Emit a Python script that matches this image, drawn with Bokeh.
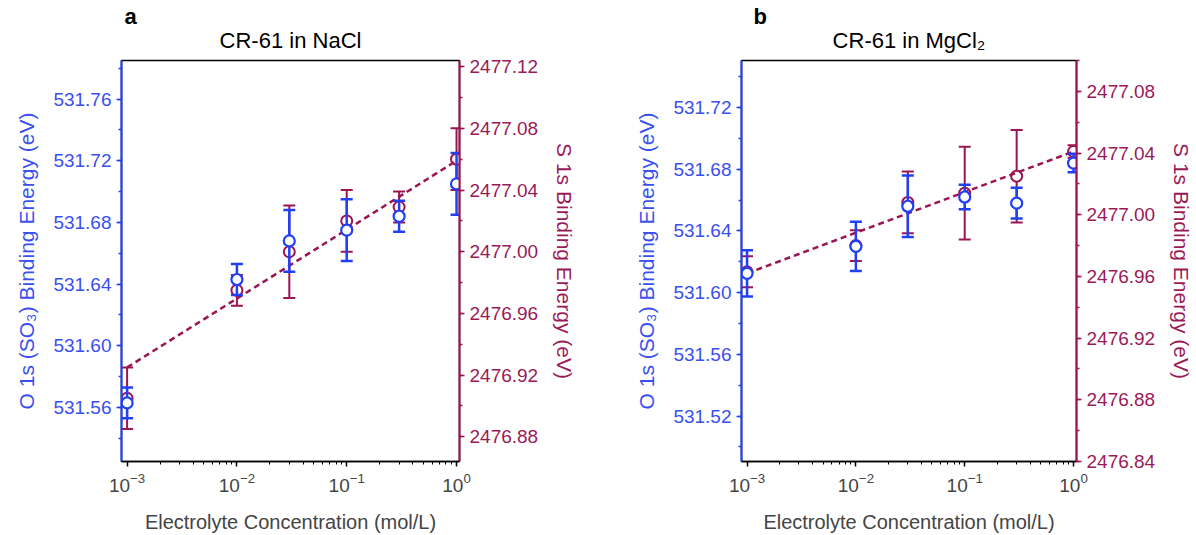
import numpy as np
from bokeh.plotting import figure
from bokeh.models import (Range1d, LinearAxis, FixedTicker, SingleIntervalTicker,
                          PrintfTickFormatter, Title, ColumnDataSource)
from bokeh.layouts import row
from bokeh.embed import file_html
from bokeh.resources import INLINE

# ---------------- data ----------------
conc = [0.001, 0.01, 0.03, 0.1, 0.3, 1.0]
fit_x = [0.001, 1.0]

o1s_nacl = [531.563, 531.643, 531.668, 531.675, 531.684, 531.705]
o1s_nacl_err = [0.010, 0.010, 0.020, 0.020, 0.010, 0.020]
s1s_nacl = [2476.905, 2476.975, 2477.000, 2477.020, 2477.029, 2477.060]
s1s_nacl_err = [0.020, 0.010, 0.030, 0.020, 0.010, 0.020]
fit_nacl = [2476.925, 2477.059]

o1s_mgcl2 = [531.6125, 531.630, 531.656, 531.662, 531.658, 531.684]
o1s_mgcl2_err = [0.015, 0.016, 0.020, 0.008, 0.010, 0.006]
s1s_mgcl2 = [2476.963, 2476.980, 2477.008, 2477.014, 2477.025, 2477.041]
s1s_mgcl2_err = [0.010, 0.010, 0.020, 0.030, 0.030, 0.004]
fit_mgcl2 = [2476.962, 2477.041]

x_major = [0.001, 0.01, 0.1, 1.0]
x_minor = [k * 10.0 ** e for e in (-3, -2, -1) for k in range(2, 10)]

BLUE = "#2040f8"
BLUE_TXT = "#3a4ff0"
RED = "#9b1552"
RED_TXT = "#9a1a58"
FONT = "Liberation Sans"


def make_panel(title, letter, letter_x, o1s, o1s_err, s1s, s1s_err, fit_y,
               o_range, s_range, b_left, b_right):
    p = figure(width=598, height=535, x_axis_type="log",
               x_range=Range1d(10 ** -3.051, 10 ** 0.027),
               y_range=Range1d(*o_range),
               output_backend="svg", toolbar_location=None,
               min_border_left=b_left, min_border_right=b_right,
               min_border_top=60, min_border_bottom=73, title=None)
    p.extra_y_ranges = {"s": Range1d(*s_range)}
    p.xgrid.visible = False
    p.ygrid.visible = False
    p.outline_line_color = "black"
    p.outline_line_width = 1.5
    p.background_fill_color = "white"
    p.border_fill_color = "white"

    p.add_layout(Title(text=title, align="center", text_font=FONT,
                       text_font_size="22px", text_font_style="normal",
                       text_color="black", standoff=16), "above")
    p.add_layout(Title(text=letter, align="left", offset=letter_x,
                       text_font=FONT, text_font_size="22px",
                       text_font_style="bold", text_color="black",
                       standoff=-23), "above")

    # x axis
    xa = p.xaxis[0]
    xa.ticker = FixedTicker(ticks=x_major, minor_ticks=x_minor)
    xa.axis_label = "Electrolyte Concentration (mol/L)"
    xa.axis_label_text_font = FONT
    xa.axis_label_text_font_style = "normal"
    xa.axis_label_text_font_size = "20px"
    xa.axis_label_standoff = 16
    xa.major_label_text_font = FONT
    xa.major_label_text_font_size = "19px"
    xa.major_label_standoff = 6
    xa.axis_line_color = "black"
    xa.axis_line_width = 1.5
    xa.major_tick_line_width = 1.5
    xa.minor_tick_line_width = 1
    xa.major_tick_out = 5
    xa.major_tick_in = 0
    xa.minor_tick_out = 3
    xa.minor_tick_in = 0

    # left y axis
    ya = p.yaxis[0]
    ya.ticker = SingleIntervalTicker(interval=0.04, num_minor_ticks=2)
    ya.formatter = PrintfTickFormatter(format="%.2f")
    ya.axis_label = "O 1s (SO\u2083) Binding Energy (eV)"
    ya.axis_label_text_color = BLUE_TXT
    ya.major_label_text_color = BLUE_TXT

    # right y axis
    ra = LinearAxis(y_range_name="s",
                    ticker=SingleIntervalTicker(interval=0.04, num_minor_ticks=2),
                    formatter=PrintfTickFormatter(format="%.2f"),
                    axis_label="S 1s Binding Energy (eV)")
    ra.axis_label_text_color = RED_TXT
    ra.major_label_text_color = RED_TXT
    for ax, col in ((ya, BLUE), (ra, RED)):
        ax.axis_line_color = col
        ax.axis_line_width = 2
        ax.major_tick_line_color = col
        ax.minor_tick_line_color = col
        ax.major_tick_line_width = 1.5
        ax.minor_tick_line_width = 1.5
        ax.major_tick_out = 5
        ax.major_tick_in = 0
        ax.minor_tick_out = 3
        ax.minor_tick_in = 0
        ax.axis_label_text_font = FONT
        ax.axis_label_text_font_style = "normal"
        ax.axis_label_text_font_size = "21px"
        ax.axis_label_standoff = 12
        ax.major_label_text_font = FONT
        ax.major_label_text_font_size = "19px"
        ax.major_label_standoff = 5
    p.add_layout(ra, "right")

    o = np.array(o1s)
    oe = np.array(o1s_err)
    s = np.array(s1s)
    se = np.array(s1s_err)
    src = ColumnDataSource(dict(x=conc, o=o, o_lo=o - oe, o_hi=o + oe,
                                s=s, s_lo=s - se, s_hi=s + se))

    # S 1s (right axis)
    p.segment(x0="x", y0="s_lo", x1="x", y1="s_hi", source=src, y_range_name="s",
              line_color=RED, line_width=2)
    for key in ("s_lo", "s_hi"):
        p.scatter(x="x", y=key, source=src, y_range_name="s", marker="dash",
                  size=12, line_color=RED, line_width=2)
    p.scatter(x="x", y="s", source=src, y_range_name="s", marker="circle",
              size=11, fill_color="white", line_color=RED, line_width=2)
    p.line(x=fit_x, y=fit_y, y_range_name="s", line_color=RED, line_width=2.5,
           line_dash="6 4")

    # O 1s (left axis)
    p.segment(x0="x", y0="o_lo", x1="x", y1="o_hi", source=src,
              line_color=BLUE, line_width=2.5)
    for key in ("o_lo", "o_hi"):
        p.scatter(x="x", y=key, source=src, marker="dash",
                  size=12, line_color=BLUE, line_width=2.5)
    p.scatter(x="x", y="o", source=src, marker="circle",
              size=11, fill_color="white", line_color=BLUE, line_width=2.2)
    return p


p1 = make_panel("CR-61 in NaCl", "a", 3, o1s_nacl, o1s_nacl_err, s1s_nacl,
                s1s_nacl_err, fit_nacl, (531.525, 531.785), (2476.864, 2477.124),
                121, 139)
p2 = make_panel("CR-61 in MgCl\u2082", "b", 12, o1s_mgcl2, o1s_mgcl2_err, s1s_mgcl2,
                s1s_mgcl2_err, fit_mgcl2, (531.4905, 531.7505), (2476.84, 2477.10),
                143, 119)

layout = row(p1, p2)
open("out.html", "w").write(file_html(layout, INLINE))
